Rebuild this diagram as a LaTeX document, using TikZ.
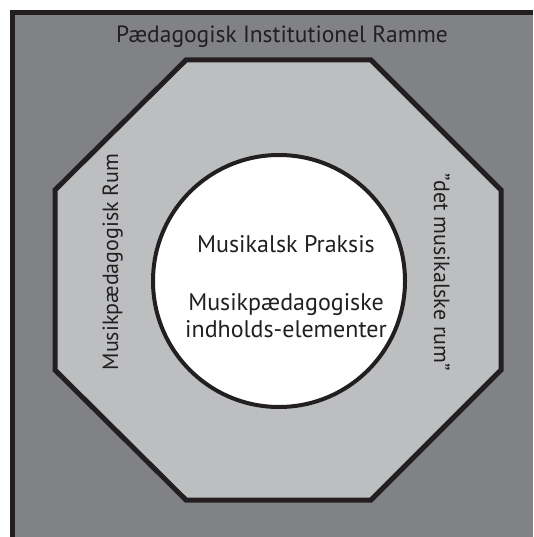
\documentclass[tikz,border=0pt]{standalone}
\usepackage{fontspec}
\setmainfont{PT Sans}
\usepackage{tikz}
\usetikzlibrary{positioning}
\definecolor{rammegray}{HTML}{808285}
\definecolor{rumgray}{HTML}{BCBEC0}
\definecolor{inkblack}{HTML}{231F20}
\tikzset{label text/.style={text=inkblack,font=\fontsize{23.5}{28}\selectfont,anchor=base,inner sep=0pt},
  side text/.style={label text,font=\fontsize{22}{26}\selectfont}}

\begin{document}
\begin{tikzpicture}[x=1pt,y=-1pt]
\useasboundingbox (0,0) rectangle (533,537);
\fill[rammegray] (12.5,12.5) rectangle (533,537);
\draw[inkblack,line width=5pt] (12.5,537) -- (12.5,12.5) -- (533,12.5);
\filldraw[fill=rumgray,draw=inkblack,line width=5pt,line join=miter]
  (186,60) -- (371,60) -- (501,190) -- (501,370) -- (371,500) -- (186,500) -- (55,370) -- (55,190) -- cycle;
\filldraw[fill=white,draw=inkblack,line width=4pt] (279,281) circle (126);
\node[label text] (ramme) at (282,43) {Pædagogisk Institutionel Ramme};
\node[side text,rotate=90] (rum) at (118,262) {Musikpædagogisk Rum};
\node[side text,rotate=-90] (musikrum) at (434,272) {”det musikalske rum”};
\node[label text,font=\fontsize{24}{28}\selectfont] (praksis) at (286,252) {Musikalsk Praksis};
\node[label text,font=\fontsize{24}{28}\selectfont] (indhold) at (286,310) {Musikpædagogiske};
\node[label text,font=\fontsize{24}{28}\selectfont] (elementer) at (286,337) {indholds-elementer};
\end{tikzpicture}
\end{document}
